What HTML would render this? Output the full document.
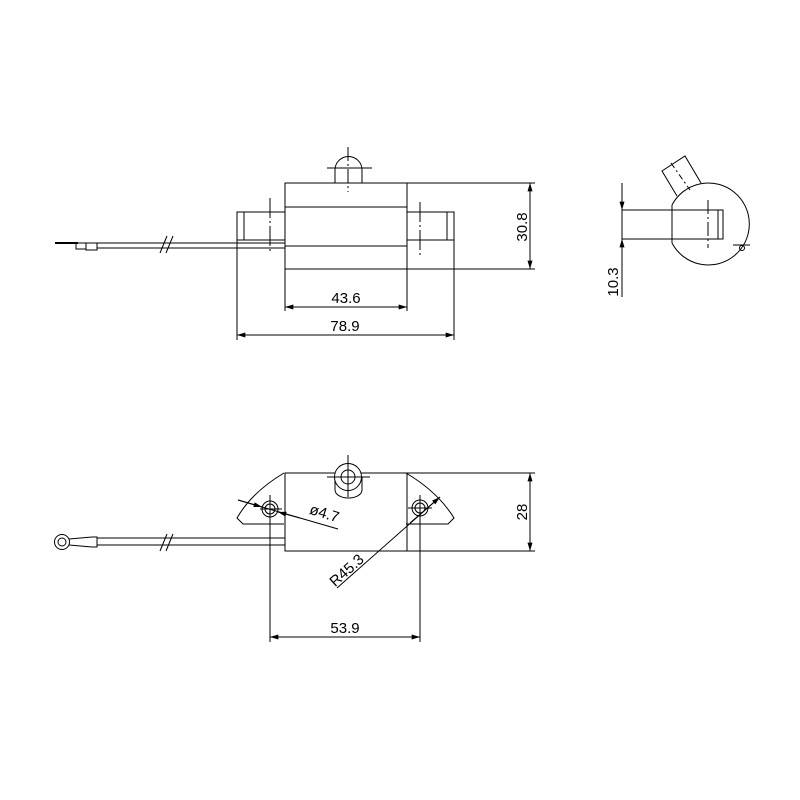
<!DOCTYPE html>
<html><head><style>html,body{margin:0;background:#fff}svg{display:block}text{font-family:"Liberation Sans",sans-serif;font-size:15px;fill:#000}</style></head><body>
<svg width="800" height="800" viewBox="0 0 800 800" xmlns="http://www.w3.org/2000/svg">
<defs>
<marker id="a" viewBox="0 0 10 6" refX="10" refY="3" markerWidth="14" markerHeight="5" markerUnits="userSpaceOnUse" orient="auto-start-reverse"><path d="M0,0L10,3L0,6z" fill="#000"/></marker>
</defs>
<g fill="none" stroke="#000" stroke-width="1">
<rect x="285" y="183" width="122" height="86"/>
<line x1="285" y1="207" x2="407" y2="207"/>
<line x1="285" y1="246" x2="407" y2="246"/>
<path d="M285,212H237V240H285M244,212V240"/>
<path d="M407,212H454V240H407M447,212V240"/>
<path d="M335,183V170A13.5,13.5 0 0 1 362,170V183"/>
<line x1="348" y1="147" x2="348" y2="192" stroke-dasharray="14,3,2,3"/>
<line x1="327" y1="168" x2="372" y2="168"/>
<line x1="270" y1="198" x2="270" y2="253" stroke-dasharray="20,3,2,3"/>
<line x1="420" y1="202" x2="420" y2="258" stroke-dasharray="20,3,2,3"/>
<path d="M97,243H285M97,248H285"/>
<line x1="55" y1="243" x2="78" y2="243" stroke-width="2"/>
<rect x="76" y="243" width="10" height="6"/><rect x="86" y="243" width="11" height="7"/>
<path d="M160,253L167,236M166,253L173,236"/>
<path d="M407,183H535M407,269H535"/>
<line x1="530" y1="183" x2="530" y2="269" marker-start="url(#a)" marker-end="url(#a)"/>
<path d="M285,269V311M407,269V311"/>
<line x1="285" y1="307" x2="407" y2="307" marker-start="url(#a)" marker-end="url(#a)"/>
<path d="M237,240V340M454,240V340"/>
<line x1="237" y1="335" x2="454" y2="335" marker-start="url(#a)" marker-end="url(#a)"/>
<path d="M672,205A41,41 0 1 1 672,243"/>
<line x1="672" y1="205" x2="672" y2="243"/>
<path d="M622,210H723V239H622M718,210V239"/>
<line x1="708" y1="200" x2="708" y2="248" stroke-dasharray="14,3,2,3"/>
<path d="M677,196L662,171L685,156L701,183"/>
<line x1="671" y1="163" x2="690" y2="190" stroke-dasharray="6,3,2,3"/>
<path d="M733,245H750"/><circle cx="742" cy="248" r="2.5"/>
<path d="M622,183V297"/>
<line x1="622" y1="185" x2="622" y2="210" marker-end="url(#a)"/>
<line x1="622" y1="264" x2="622" y2="239" marker-end="url(#a)"/>
<rect x="285" y="473" width="122" height="78"/>
<path d="M284,473Q252,492 237,518L243,524H284"/>
<path d="M406,473Q438,492 454,518L448,524H406"/>
<path d="M335,477V490A13.5,8 0 0 0 362,490V477"/>
<circle cx="348" cy="477" r="13.5" fill="#fff"/>
<circle cx="348" cy="477" r="7"/>
<line x1="348" y1="455" x2="348" y2="497"/>
<line x1="327" y1="477" x2="370" y2="477"/>
<circle cx="270" cy="509" r="8"/><circle cx="270" cy="509" r="5"/>
<circle cx="420" cy="508" r="8"/><circle cx="420" cy="508" r="5"/>
<path d="M260,509H282M408,508H432"/>
<path d="M270,495V642M420,495V642"/>
<line x1="270" y1="637" x2="420" y2="637" marker-start="url(#a)" marker-end="url(#a)"/>
<path d="M238,500L338,529"/>
<line x1="238" y1="500" x2="262" y2="507" marker-end="url(#a)"/>
<line x1="300" y1="518" x2="278" y2="512" marker-end="url(#a)"/>
<line x1="337" y1="588" x2="440" y2="497"/>
<line x1="410" y1="523" x2="440" y2="497" marker-end="url(#a)"/>
<path d="M97,538H285M97,545H285"/>
<circle cx="62" cy="542" r="7.5"/><circle cx="62" cy="542" r="4"/>
<path d="M69,539L92,537H97V547H92L69,545"/>
<path d="M160,551L167,534M166,551L173,534"/>
<path d="M407,473H535M407,551H535"/>
<line x1="530" y1="473" x2="530" y2="551" marker-start="url(#a)" marker-end="url(#a)"/>
</g>
<g style="font-stretch:condensed">
<text x="346" y="303" text-anchor="middle">43.6</text>
<text x="345" y="331" text-anchor="middle">78.9</text>
<text transform="translate(527,227) rotate(-90)" text-anchor="middle">30.8</text>
<text transform="translate(618,282) rotate(-90)" text-anchor="middle">10.3</text>
<text x="345" y="633" text-anchor="middle">53.9</text>
<text transform="translate(527,512) rotate(-90)" text-anchor="middle">28</text>
<text transform="translate(323,518) rotate(17)" text-anchor="middle">ø4.7</text>
<text transform="translate(350,574) rotate(-42)" text-anchor="middle">R45.3</text>
</g>
</svg>
</body></html>
